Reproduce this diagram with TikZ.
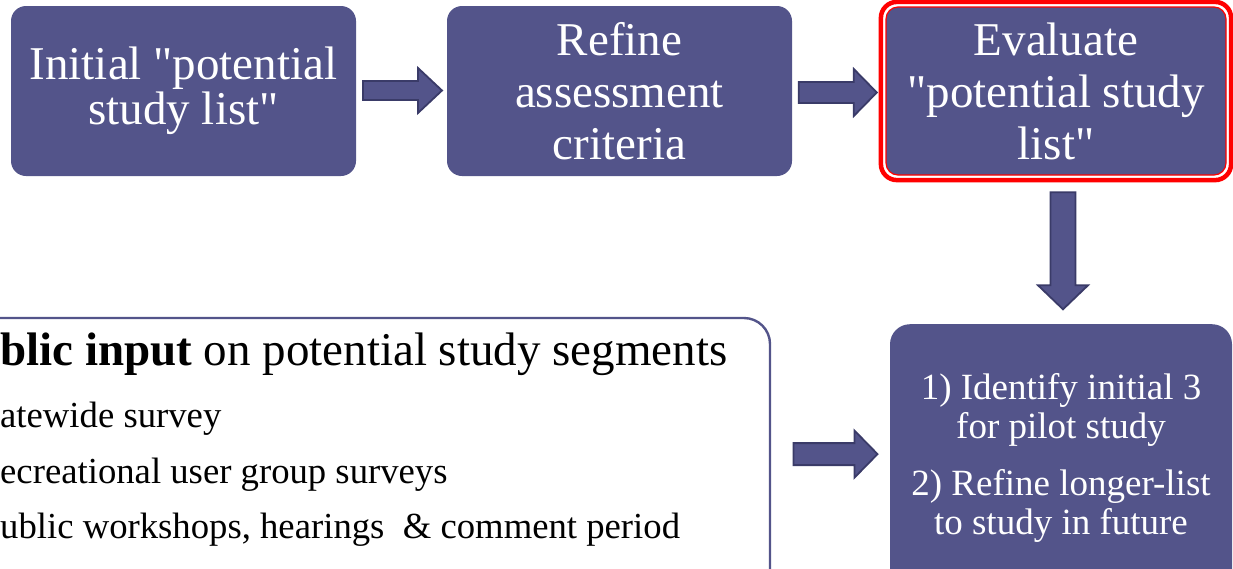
\documentclass[tikz,border=0pt]{standalone}
\usepackage{fontspec}
\setmainfont{Liberation Serif}[Ligatures=TeXOff]
\usetikzlibrary{calc}
\definecolor{boxpurple}{HTML}{53548A}
\definecolor{arrowedge}{HTML}{3A3B68}
\definecolor{evalred}{HTML}{FF0000}
\tikzset{
  pbox/.style={fill=boxpurple, draw=none, rounded corners=15pt, inner sep=0pt,
    text=white, align=center},
  arrowsty/.style={fill=boxpurple, draw=arrowedge, line width=1.8pt, line join=miter},
  inpbox/.style={draw=boxpurple, line width=2.4pt, rounded corners=26pt, fill=white, inner sep=0pt},
  toptext/.style={font=\fontsize{47}{52}\selectfont},
  itemtext/.style={anchor=base west, inner sep=0pt, font=\fontsize{36.7}{40}\selectfont},
}
% #1 centre, #2 angle, #3 length, #4 shaft half width, #5 head half width, #6 head length
\newcommand\blkarrow[6]{%
  \draw[arrowsty, shift={(#1)}, rotate=#2]
    ({-#3/2},{-#4}) -- ({#3/2-#6},{-#4}) -- ({#3/2-#6},{-#5}) -- ({#3/2},0)
    -- ({#3/2-#6},{#5}) -- ({#3/2-#6},{#4}) -- ({-#3/2},{#4}) -- cycle;}
\begin{document}
\begin{tikzpicture}[x=1pt,y=-1pt]
\useasboundingbox (0,0) rectangle (1233,568);
\clip (0,0) rectangle (1233,568);

% top row boxes
\node[pbox, minimum width=345pt, minimum height=170pt,
  font=\fontsize{47}{45}\selectfont] (b1) at (183.5,91) {Initial "potential\\study list"};
\node[pbox, minimum width=345pt, minimum height=170pt, toptext] (b2) at (619.5,91)
  {Refine\\assessment\\criteria};
\node[pbox, rounded corners=12pt, minimum width=340pt, minimum height=168pt, toptext,
  draw=evalred, line width=1.2pt] (ev) at (1056,91)
  {Evaluate\\"potential study\\list"};
\draw[evalred, line width=4.5pt, rounded corners=16pt]
  ([shift={(-4.5,-4.5)}]ev.north west) rectangle ([shift={(4.5,4.5)}]ev.south east);

% bottom right box
\node[pbox, rounded corners=20pt, minimum width=342pt, minimum height=268pt,
  font=\fontsize{37}{39.5}\selectfont] (out) at (1061,458.2)
  {1) Identify initial 3\\for pilot study\\[17pt]2) Refine longer-list\\to study in future};

% bottom left box (public input)
\node[inpbox, minimum width=820pt, minimum height=290pt] (inp) at (360,463) {};
\node[anchor=base west, inner sep=0pt, font=\fontsize{47}{50}\selectfont] (head) at (0,365)
  {\textbf{blic input} on potential study segments};
\node[itemtext] (i1) at (0,427) {atewide survey};
\node[itemtext] (i2) at (0,483) {ecreational user group surveys};
\node[itemtext] (i3) at (0,538) {ublic workshops, hearings\ \ \& comment period};

% block arrows
\coordinate (a1) at ($($(b1.east)!0.5!(b2.west)$)+(1,-0.5)$);
\coordinate (a2) at ($($(b2.east)!0.5!(ev.west)$)+(-1,1.5)$);
\coordinate (a3) at ($($(ev.south)!0.5!(out.north)$)+(4.5,1)$);
\coordinate (a4) at ($($(inp.east)!0.5!(out.west)$)+(5,-6.5)$);
\blkarrow{a1}{0}{79}{9.5}{22.5}{24}
\blkarrow{a2}{0}{78}{10.5}{23.5}{23}
\blkarrow{a3}{-90}{117}{12.5}{25}{24}
\blkarrow{a4}{0}{84}{11}{23.5}{23}
\end{tikzpicture}
\end{document}
